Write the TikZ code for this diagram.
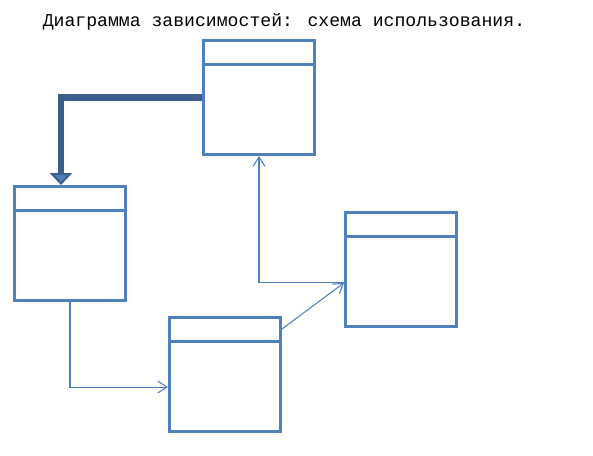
\documentclass[tikz,border=0pt]{standalone}
\usepackage{fontspec}
\newfontfamily\titlefont{Liberation Mono}
\usetikzlibrary{arrows.meta,calc}

\definecolor{boxblue}{HTML}{4F81BD}
\definecolor{darkblue}{HTML}{3B5E8C}

\begin{document}
\begin{tikzpicture}[
    x=0.75pt, y=-0.75pt,
    classbox/.style={draw=boxblue, line width=2.25pt, minimum width=83.25pt,
                     minimum height=85.5pt, inner sep=0pt},
    usage/.style={-{Straight Barb[length=7pt, width=9pt]}, draw=boxblue, line width=0.8pt},
    bigarrow/.style={-{Triangle[length=9pt, width=16.5pt, line width=1.5pt, fill=boxblue]},
                     draw=darkblue, line width=5pt}
]
\useasboundingbox (0,0) rectangle (593,455);

% Title
\node[font=\titlefont\fontsize{13.6pt}{15pt}\selectfont] (title) at (284,22)
    {Диаграмма зависимостей: схема использования.};

% Classes
\node[classbox] (topbox) at (259,97.5) {};
\node[classbox] (leftbox) at (70,243.5) {};
\node[classbox] (lowbox) at (225,374.5) {};
\node[classbox] (rightbox) at (401,269.5) {};

% Header lines
\foreach \n in {topbox,leftbox,lowbox,rightbox}
    \draw[boxblue, line width=2.25pt]
        ([yshift=-18.75pt]\n.north west) -- ([yshift=-18.75pt]\n.north east);

% Dependencies
\draw[bigarrow] (topbox.west) -| ([xshift=-6.75pt]leftbox.north);
\draw[usage] (leftbox.south) |- ([yshift=-9.4pt]lowbox.west);

\coordinate (rport) at ([yshift=-10pt]rightbox.west);
\draw[usage] ([yshift=-9.75pt]lowbox.north east) -- (rport);
\draw[usage] (rport) -| (topbox.south);

\end{tikzpicture}
\end{document}
